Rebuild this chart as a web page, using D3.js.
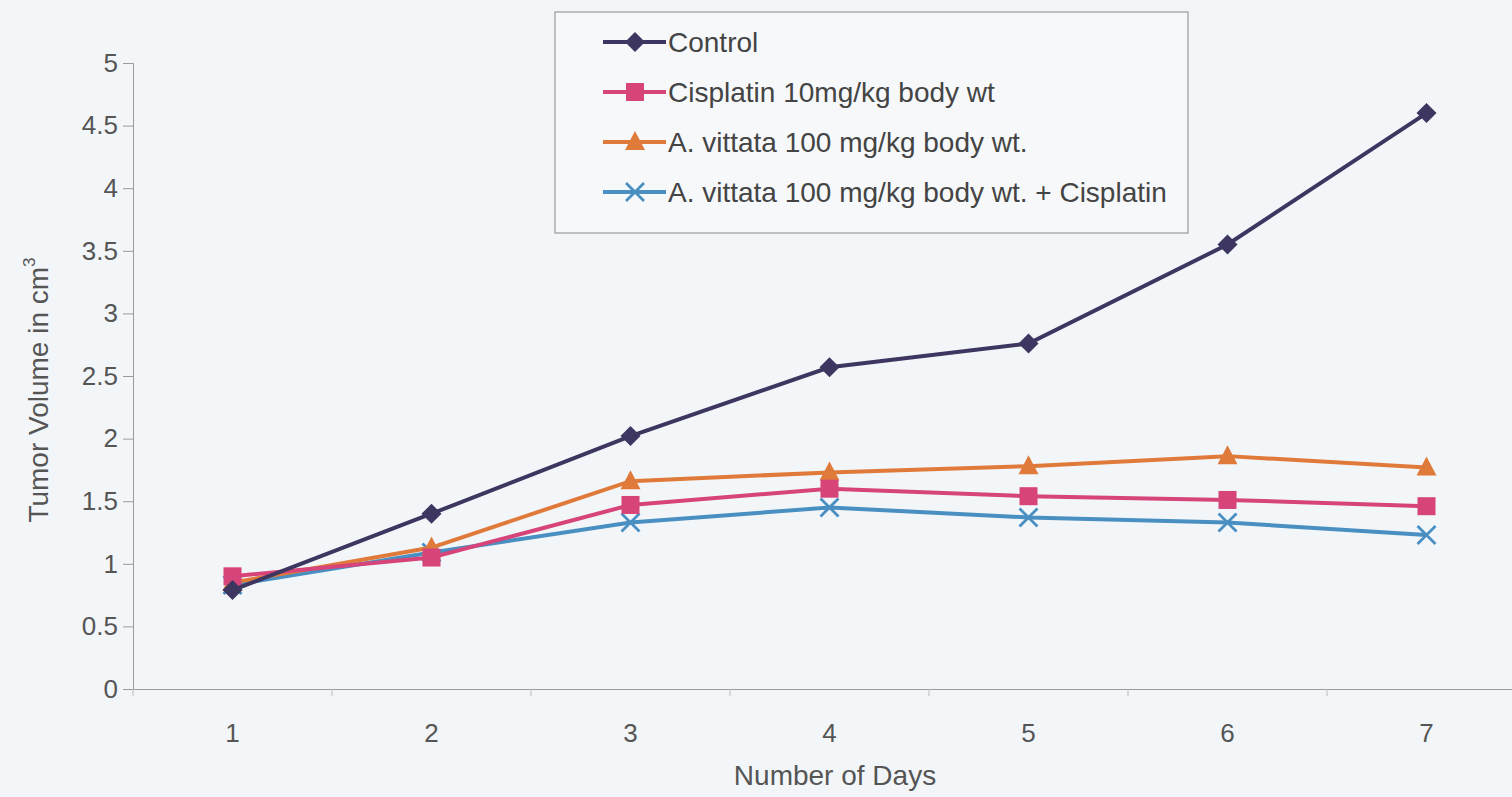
<!DOCTYPE html>
<html lang="en">
<head>
<meta charset="utf-8">
<title>Tumor Volume</title>
<script src="https://cdn.jsdelivr.net/npm/d3@7"></script>
<style>
  body { margin: 0; background: #f3f6f9; }
  svg { display: block; font-family: "Liberation Sans", Arial, sans-serif; }
</style>
</head>
<body>
<svg id="chart" width="1512" height="797"></svg>
<script>
// data
var days = ["1", "2", "3", "4", "5", "6", "7"];
var yTicks = [0, 0.5, 1, 1.5, 2, 2.5, 3, 3.5, 4, 4.5, 5];
var seriesNames = [
  "Control",
  "Cisplatin 10mg/kg body wt",
  "A. vittata 100 mg/kg body wt.",
  "A. vittata 100 mg/kg body wt. + Cisplatin"
];
var control   = [0.79, 1.40, 2.02, 2.57, 2.76, 3.55, 4.60];
var cisplatin = [0.90, 1.05, 1.47, 1.60, 1.54, 1.51, 1.46];
var vittata   = [0.85, 1.13, 1.66, 1.73, 1.78, 1.86, 1.77];
var combo     = [0.83, 1.09, 1.33, 1.45, 1.37, 1.33, 1.23];

var seriesValues = [control, cisplatin, vittata, combo];
var colors  = ["#3c3660", "#d6447a", "#e07a3a", "#4a8fc2"];
var symbols = ["diamond", "square", "triangle", "cross"];

var svg = d3.select("#chart");
var margin = {top: 63, left: 133, bottom: 108, right: -14};
var width = +svg.attr("width"), height = +svg.attr("height");

var x = d3.scaleBand()
  .domain(days)
  .range([margin.left, width - margin.right]);

var y = d3.scaleLinear()
  .domain([0, 5])
  .range([height - margin.bottom, margin.top]);

// axes
var yAxis = svg.append("g")
  .attr("transform", `translate(${margin.left},0)`)
  .call(d3.axisLeft(y).tickValues(yTicks).tickSize(10).tickPadding(5)
    .tickFormat(d3.format("")));
yAxis.select(".domain").attr("stroke", "#9a9a9a");
yAxis.selectAll(".tick line").attr("stroke", "#9a9a9a");
yAxis.selectAll("text").attr("font-size", 26).attr("fill", "#555")
  .attr("font-family", "Liberation Sans, Arial, sans-serif");

var xAxis = svg.append("g")
  .attr("transform", `translate(0,${y(0)})`)
  .call(d3.axisBottom(x).tickSize(0).tickPadding(35).tickSizeOuter(0));
xAxis.select(".domain").attr("stroke", "#9a9a9a");
xAxis.selectAll("text").attr("font-size", 26).attr("fill", "#555")
  .attr("font-family", "Liberation Sans, Arial, sans-serif");

// tick marks between categories
svg.append("g").selectAll("line")
  .data(days)
  .join("line")
    .attr("x1", d => x(d)).attr("x2", d => x(d))
    .attr("y1", y(0)).attr("y2", y(0) + 7)
    .attr("stroke", "#bbb");

// axis titles
svg.append("text")
  .attr("transform", `translate(48,${(y(0) + y(5)) / 2 + 14}) rotate(-90)`)
  .attr("text-anchor", "middle")
  .attr("font-size", 28)
  .attr("fill", "#555")
  .text("Tumor Volume in cm")
  .append("tspan")
    .attr("font-size", 17)
    .attr("dy", -13)
    .text("3");

svg.append("text")
  .attr("x", 835).attr("y", 785)
  .attr("text-anchor", "middle")
  .attr("font-size", 28)
  .attr("fill", "#555")
  .text("Number of Days");

// marker helper
function drawMarker(g, type, color) {
  if (type === "diamond") {
    g.append("path").attr("d", "M0,-10L10,0L0,10L-10,0Z").attr("fill", color);
  } else if (type === "square") {
    g.append("rect").attr("x", -9).attr("y", -9).attr("width", 18).attr("height", 18).attr("fill", color);
  } else if (type === "triangle") {
    g.append("path").attr("d", "M0,-11L10,8L-10,8Z").attr("fill", color);
  } else {
    g.append("path").attr("d", "M-9,-9L9,9M-9,9L9,-9")
      .attr("stroke", color).attr("stroke-width", 2.8).attr("fill", "none");
  }
}

var line = d3.line()
  .x((d, i) => x(days[i]) + x.bandwidth() / 2)
  .y(d => y(d));

// draw back to front so Control sits on top
[3, 2, 1, 0].forEach(function(k) {
  var g = svg.append("g");
  g.append("path")
    .datum(seriesValues[k])
    .attr("d", line)
    .attr("fill", "none")
    .attr("stroke", colors[k])
    .attr("stroke-width", 4);
  g.selectAll("g.pt")
    .data(seriesValues[k])
    .join("g")
      .attr("class", "pt")
      .attr("transform", (d, i) => `translate(${x(days[i]) + x.bandwidth() / 2},${y(d)})`)
      .each(function() { drawMarker(d3.select(this), symbols[k], colors[k]); });
});

// legend
var legend = svg.append("g").attr("transform", "translate(555,12)");
legend.append("rect")
  .attr("width", 633).attr("height", 221)
  .attr("fill", "#f6f8fa").attr("stroke", "#999").attr("stroke-width", 1.2);

seriesNames.forEach(function(name, i) {
  var row = legend.append("g").attr("transform", `translate(0,${30 + i * 50})`);
  row.append("line")
    .attr("x1", 48).attr("x2", 111)
    .attr("stroke", colors[i]).attr("stroke-width", 4);
  var m = row.append("g").attr("transform", "translate(80,0)");
  drawMarker(m, symbols[i], colors[i]);
  row.append("text")
    .attr("x", 113).attr("y", 10)
    .attr("font-size", 28)
    .attr("fill", "#444")
    .text(name);
});
</script>
</body>
</html>
